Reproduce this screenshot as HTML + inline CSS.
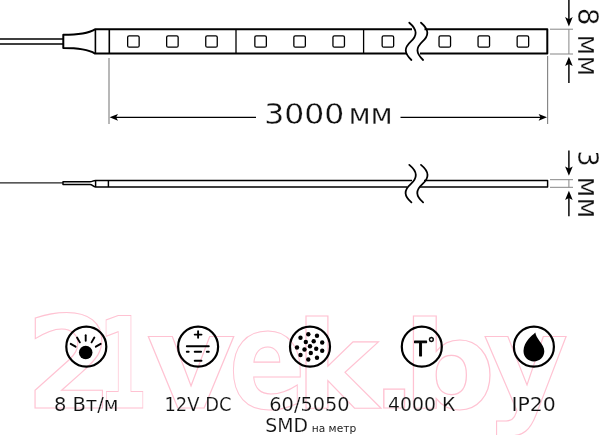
<!DOCTYPE html>
<html lang="ru">
<head>
<meta charset="utf-8">
<title>LED strip 3000 мм</title>
<style>
html,body{margin:0;padding:0;background:#fff;}
body{width:600px;height:435px;overflow:hidden;}
svg{display:block;will-change:transform;}
text{font-family:"DejaVu Sans","Liberation Sans",sans-serif;fill:#111;stroke:#fff;stroke-width:.15px;}
text.big{stroke-width:.3px;}
text.sm{stroke:none;fill:#222;}
text.ic{font-family:"Liberation Sans",sans-serif;fill:#000;stroke:#000;stroke-linejoin:round;}
</style>
</head>
<body>
<svg width="600" height="435" viewBox="0 0 600 435">
<rect width="600" height="435" fill="#fff"/>

<!-- watermark -->
<text id="wm" y="408" lengthAdjust="spacingAndGlyphs" style="font-family:'DejaVu Sans','Liberation Sans',sans-serif;font-weight:bold;fill:none;stroke:#ffc2d2;stroke-width:1.1px"><tspan x="25.1" font-size="128.8" textLength="88.5" lengthAdjust="spacingAndGlyphs">2</tspan><tspan x="97.9" font-size="127.3" textLength="49.7" lengthAdjust="spacingAndGlyphs">1</tspan><tspan x="146.2" font-size="130.3" textLength="89.5" lengthAdjust="spacingAndGlyphs">v</tspan><tspan x="228.4" font-size="136.4" textLength="77.2" lengthAdjust="spacingAndGlyphs">e</tspan><tspan x="295.5" font-size="121.4" textLength="83.2" lengthAdjust="spacingAndGlyphs">k</tspan><tspan x="371.7" font-size="99" textLength="44.8" lengthAdjust="spacingAndGlyphs">.</tspan><tspan x="402.4" font-size="121.8" textLength="93.3" lengthAdjust="spacingAndGlyphs">b</tspan><tspan x="483.4" font-size="130.3" textLength="84.9" lengthAdjust="spacingAndGlyphs">y</tspan></text>

<!-- top view of strip -->
<g fill="none" stroke="#000" stroke-width="2" stroke-linejoin="round">
  <path d="M0 39.1H63M0 43.9H63" stroke-width="1.5"/>
  <path d="M412 29.3H95 C88 33.6 78 34.8 63.3 34.8 V48.1 C78 48.1 88 49.4 95 53.6 H407"/>
  <path d="M95.4 29.3V53.6M109.3 29.3V53.6" stroke-width="1.6"/>
  <path d="M236 29.3V53.6M363.6 29.3V53.6" stroke-width="1.3"/>
  <path d="M424.5 29.3H547.3V53.6H420"/>
</g>
<g fill="#fff" stroke="#000" stroke-width="1.3">
  <rect x="127.65" y="35.8" width="11.5" height="11.4" rx="1.5"/>
  <rect x="166.65" y="35.8" width="11.5" height="11.4" rx="1.5"/>
  <rect x="205.75" y="35.8" width="11.5" height="11.4" rx="1.5"/>
  <rect x="254.85" y="35.8" width="11.5" height="11.4" rx="1.5"/>
  <rect x="293.85" y="35.8" width="11.5" height="11.4" rx="1.5"/>
  <rect x="332.95" y="35.8" width="11.5" height="11.4" rx="1.5"/>
  <rect x="382.15" y="35.8" width="11.5" height="11.4" rx="1.5"/>
  <rect x="439.05" y="35.8" width="11.5" height="11.4" rx="1.5"/>
  <rect x="478.05" y="35.8" width="11.5" height="11.4" rx="1.5"/>
  <rect x="517.15" y="35.8" width="11.5" height="11.4" rx="1.5"/>
</g>
<!-- break marks -->
<g fill="none" stroke="#000" stroke-width="1.8" stroke-linecap="round">
  <path d="M409.3 22.7 C418 30 417 36 410.7 41.7 C404 48 404 53 411.4 60"/>
  <path d="M421 22.7 C429.7 30 428.7 36 422.4 41.7 C415.7 48 415.7 53 423.1 60"/>
</g>

<!-- dimension 3000 -->
<g stroke="#858585" stroke-width="1.15" fill="none">
  <path d="M109 58V124M547.6 56V124"/>
  <path d="M550 29.2H573M550 54H573M568.9 29.2V54" stroke-width="1"/>
  <path d="M550 179.7H573M550 187.3H573M568.9 179.7V187.3" stroke-width="1"/>
</g>
<g stroke="#000" stroke-width="1.25" fill="none">
  <path d="M114 117.3H256M400.5 117.3H543"/>
  <path d="M568.9 0V20M568.9 63V83" stroke-width="1.45"/>
  <path d="M568.9 150.5V169M568.9 197V216.3" stroke-width="1.45"/>
</g>
<g fill="#000" stroke="none">
  <path d="M109.6 117.3 L118 113.9 L116.1 117.3 L118 120.7Z"/>
  <path d="M547 117.3 L538.6 113.9 L540.5 117.3 L538.6 120.7Z"/>
  <path d="M568.9 26.4 L565.1 17.1 L568.9 19.2 L572.7 17.1Z"/>
  <path d="M568.9 56.8 L565.1 66.1 L568.9 64 L572.7 66.1Z"/>
  <path d="M568.9 175.8 L565.1 166.5 L568.9 168.6 L572.7 166.5Z"/>
  <path d="M568.9 190.8 L565.1 200.1 L568.9 198 L572.7 200.1Z"/>
</g>
<text class="big" y="123.8" font-size="28.8"><tspan x="264.3" textLength="80.1" lengthAdjust="spacingAndGlyphs">3000</tspan> <tspan x="348.4" textLength="44.4" lengthAdjust="spacingAndGlyphs">мм</tspan></text>

<g transform="translate(577.6 0) rotate(90)">
  <text class="big" y="0" font-size="28.8"><tspan x="7.8" textLength="17.8" lengthAdjust="spacingAndGlyphs">8</tspan> <tspan x="34.6" textLength="41.6" lengthAdjust="spacingAndGlyphs">мм</tspan></text>
  <text class="big" y="0" font-size="28.8"><tspan x="150.5" textLength="16.1" lengthAdjust="spacingAndGlyphs">3</tspan> <tspan x="176.5" textLength="41.8" lengthAdjust="spacingAndGlyphs">мм</tspan></text>
</g>

<!-- side view -->
<g fill="none" stroke="#000" stroke-width="1.45" stroke-linejoin="round">
  <path d="M0 182.9H63" stroke-width="1.1" stroke="#222"/>
  <path d="M412 180.4H95.5 C93 180.4 92.5 181.8 90 181.8 H63 V184.4 H90 C92.5 184.4 93 186.9 95.5 186.9 H407"/>
  <path d="M95.6 180.4V186.9M108.4 180.4V186.9"/>
  <path d="M424 180.4H547.6V186.9H420"/>
</g>
<g fill="none" stroke="#000" stroke-width="1.8" stroke-linecap="round">
  <path d="M409.3 164.9 C418 172 417.5 178 410.7 184.2 C403.5 190.5 404 196 411.4 202.4"/>
  <path d="M421 164.9 C429.7 172 429.2 178 422.4 184.2 C415.2 190.5 415.7 196 423.1 202.4"/>
</g>

<!-- icons -->
<g fill="none" stroke="#000" stroke-width="2.2">
  <circle cx="86.3" cy="346.7" r="20"/>
  <circle cx="198.1" cy="346.7" r="20"/>
  <circle cx="310" cy="346.7" r="20"/>
  <circle cx="421.8" cy="346.7" r="20"/>
  <circle cx="533.9" cy="346.7" r="20"/>
</g>
<!-- icon 1: light -->
<circle cx="85.7" cy="352.5" r="6.8" fill="#000"/>
<g stroke="#000" stroke-width="1.9" stroke-linecap="round" fill="none" transform="translate(85.7 352.5)">
  <path d="M0 -11.7V-17.3"/>
  <path d="M0 -11.7V-17.3" transform="rotate(30)"/>
  <path d="M0 -11.7V-17.3" transform="rotate(-30)"/>
  <path d="M0 -11.7V-17.3" transform="rotate(60)"/>
  <path d="M0 -11.7V-17.3" transform="rotate(-60)"/>
</g>
<!-- icon 2: DC -->
<g stroke="#000" stroke-width="1.9" stroke-linecap="round" fill="none">
  <path d="M194.7 334.6H201.5M198.1 331.3V337.8"/>
  <path d="M186.8 346.3H208.8"/>
  <path d="M186.8 351.7H188.7M194.7 351.7H201.1M206.8 351.7H208.8"/>
  <path d="M194.7 360.8H201.5"/>
</g>
<!-- icon 3: SMD dots -->
<g fill="#000">
  <circle cx="308.3" cy="334.2" r="2.2"/><circle cx="317" cy="335.8" r="2.2"/><circle cx="300.5" cy="337.8" r="2.2"/>
  <circle cx="305.8" cy="342" r="2.2"/><circle cx="313.7" cy="341.3" r="2.2"/><circle cx="322.2" cy="342.5" r="2.2"/>
  <circle cx="297" cy="347.5" r="2.2"/><circle cx="310" cy="346.3" r="2.2"/><circle cx="304.5" cy="349.5" r="2.2"/>
  <circle cx="316.2" cy="348.7" r="2.2"/><circle cx="322.2" cy="350.8" r="2.2"/><circle cx="310.8" cy="353" r="2.2"/>
  <circle cx="300.5" cy="355" r="2.2"/><circle cx="317" cy="357.8" r="2.2"/><circle cx="308.3" cy="359.5" r="2.2"/>
</g>
<!-- icon 4: T° -->
<text class="ic" x="420.6" y="356" text-anchor="middle" font-size="21.5" style="stroke-width:.95px">T</text>
<text class="ic" x="431.3" y="349.2" text-anchor="middle" font-size="17" style="stroke-width:.5px">°</text>
<!-- icon 5: drop -->
<path d="M535.3 332.6 C535.6 335.5 537.5 338 539.5 341 C542 344.5 544.3 347.5 544.3 351.3 C544.3 357 539.6 361.4 533.9 361.4 C528.2 361.4 523.5 357 523.5 351 C523.5 346 526 342 528.5 339 C531 336 533.5 334.5 535.3 332.6Z" fill="#000"/>

<!-- labels -->
<g font-size="18.8">
  <text x="53.9" y="411.2" textLength="64.6" lengthAdjust="spacingAndGlyphs">8 Вт/м</text>
  <text x="164.5" y="411.2" textLength="66.9" lengthAdjust="spacingAndGlyphs">12V DC</text>
  <text x="269.3" y="411.2" textLength="80.3" lengthAdjust="spacingAndGlyphs">60/5050</text>
  <text x="265.3" y="432.2" textLength="42.7" lengthAdjust="spacingAndGlyphs">SMD</text>
  <text class="sm" x="311.7" y="432.2" font-size="11" textLength="44.5" lengthAdjust="spacingAndGlyphs">на метр</text>
  <text x="388.1" y="411.2" textLength="67.4" lengthAdjust="spacingAndGlyphs">4000 К</text>
  <text x="511.4" y="411.2" textLength="44.4" lengthAdjust="spacingAndGlyphs">IP20</text>
</g>
</svg>
</body>
</html>
